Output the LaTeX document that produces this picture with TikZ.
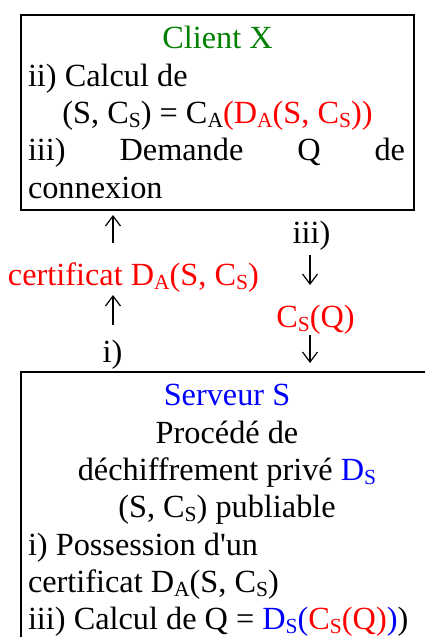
\documentclass[tikz,border=0pt]{standalone}
\usepackage{fontspec}
\setmainfont{Liberation Serif}
\usetikzlibrary{arrows.meta}
\definecolor{cgreen}{RGB}{0,128,0}
\definecolor{cred}{RGB}{255,0,0}
\definecolor{cblue}{RGB}{0,0,255}
% lowered small letters used as indices (C_S, D_A, ...)
\newcommand\sbs[1]{\raisebox{-4.5pt}{\fontsize{21.5}{21.5}\selectfont #1}}
\newcommand\rd[1]{\textcolor{cred}{#1}}
\newcommand\bl[1]{\textcolor{cblue}{#1}}

\begin{document}
\begin{tikzpicture}[x=1pt,y=-1pt,
  every node/.style={font=\fontsize{32.3}{37}\selectfont, inner sep=0pt, outer sep=0pt,
                     text height=22pt, text depth=7pt},
  lft/.style={anchor=base west},
  ctr/.style={anchor=base},
  panel/.style={draw, line width=2pt, anchor=north west, inner sep=0pt, outer sep=0pt},
  arr/.style={line width=1.2pt, -{Straight Barb[length=10pt,width=15pt]}}]
\clip (0,0) rectangle (425,637);

% the two parties
\node[panel, minimum width=393pt, minimum height=195pt] (client) at (21,15) {};
\node[panel, minimum width=412pt, minimum height=300pt] (server) at (21,372) {};

% client side
\node[ctr, text=cgreen] (ctitle) at (217.5,48) {Client X};
\node[lft] (c1) at (28,86) {ii) Calcul de};
\node[ctr] (c2) at (217.5,123) {(S, C\sbs{S}) = C\sbs{A}\rd{(D\sbs{A}(S, C\sbs{S}))}};
\node[lft] (c3) at (28,160) {\hbox to 377pt{iii)\hfill Demande\hfill Q\hfill de}};
\node[lft] (c4) at (28,198) {connexion};

% server side
\node[ctr, text=cblue] (stitle) at (227,405) {Serveur S};
\node[ctr] (s1) at (227,443) {Procédé de};
\node[ctr] (s2) at (227,480) {déchiffrement privé \bl{D\sbs{S}}};
\node[ctr] (s3) at (227,517) {(S, C\sbs{S}) publiable};
\node[lft] (s4) at (28,555) {i) Possession d\textquotesingle un};
\node[lft] (s5) at (28,592) {certificat D\sbs{A}(S, C\sbs{S})};
\node[lft] (s6) at (28,629) {iii) Calcul de Q = \bl{D\sbs{S}(}\rd{C\sbs{S}(Q)}\bl{)})};

% exchanged messages
\node[lft, text=cred] (cert) at (8,285) {certificat D\sbs{A}(S, C\sbs{S})};
\node[ctr] (stepi) at (112.5,362) {i)};
\node[ctr] (stepiii) at (311.5,243) {iii)};
\node[ctr, text=cred] (csq) at (315.5,327) {C\sbs{S}(Q)};
\coordinate (lc) at (113,0);
\coordinate (rc) at (310,0);

\draw[arr, shorten <=15pt, shorten >=3pt] (lc |- stepi.north) -- (lc |- cert.south);
\draw[arr, shorten <=20pt, shorten >=5pt] (lc |- cert.north) -- (lc |- client.south);
\draw[arr, shorten <=5pt, shorten >=20pt] (rc |- stepiii.south) -- (rc |- csq.north);
\draw[arr, shorten <=1pt, shorten >=9pt] (rc |- csq.south) -- (rc |- server.north);
\end{tikzpicture}
\end{document}
